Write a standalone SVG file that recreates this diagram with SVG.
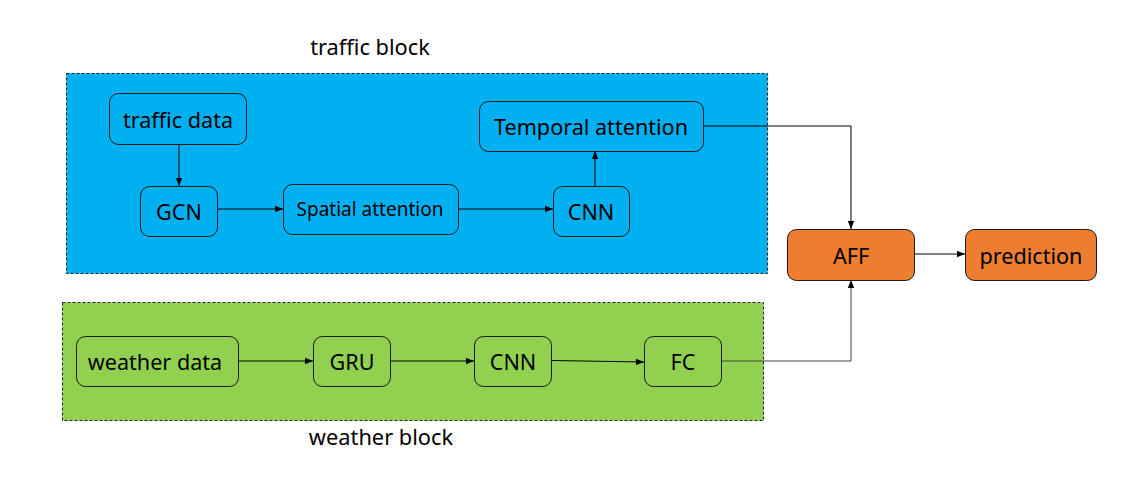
<svg xmlns="http://www.w3.org/2000/svg" width="1144" height="504" viewBox="0 0 1144 504">
<style>
.blk{stroke:#222;stroke-width:1;stroke-dasharray:3 2}
.n rect{stroke:#1a1a1a;stroke-width:1}
.t{fill:#000;font-family:"Noto Sans","Open Sans","DejaVu Sans",sans-serif;font-size:21.6px;text-anchor:middle;dominant-baseline:central}
.c{fill:none;stroke:#000;stroke-width:1;marker-end:url(#ah)}
.lbl{fill:#000;font-family:"Noto Sans","Open Sans","DejaVu Sans",sans-serif;font-size:21.8px;text-anchor:middle}
</style>
<defs>
<marker id="ah" viewBox="0 0 10 10" refX="10" refY="5" markerWidth="8" markerHeight="8" markerUnits="userSpaceOnUse" orient="auto">
<path d="M0,1 L10,5 L0,9 z" fill="#000"/>
</marker>
</defs>
<rect width="1144" height="504" fill="#fff"/>
<g id="traffic-block">
<rect class="blk" x="66.5" y="73.5" width="701" height="200" fill="#00B0F0"/>
<text class="lbl" x="370" y="55">traffic block</text>
</g>
<g id="weather-block">
<rect class="blk" x="62.5" y="302.5" width="701" height="118" fill="#92D050"/>
<text class="lbl" x="381" y="445">weather block</text>
</g>
<g id="connectors">
<path class="c" d="M179,144 V186"/>
<path class="c" d="M217,209 H283"/>
<path class="c" d="M458,209 H553"/>
<path class="c" d="M595,186 V151"/>
<path class="c" d="M703,126 H851 V229"/>
<path class="c" d="M238,361 H313"/>
<path class="c" d="M390,361 H474"/>
<path class="c" d="M552,360.5 L644,362"/>
<path class="c" d="M721,361 H851 V280" style="stroke:#444"/>
<path class="c" d="M914,254 H965"/>
</g>
<g id="traffic-data" class="n"><rect x="109.5" y="93.5" width="137" height="51" rx="9" fill="#00B0F0"/><text class="t" x="178" y="119">traffic data</text></g>
<g id="gcn" class="n"><rect x="140.5" y="186.5" width="77" height="50" rx="9" fill="#00B0F0"/><text class="t" x="179" y="211">GCN</text></g>
<g id="spatial-attention" class="n"><rect x="283.5" y="184.5" width="175" height="50" rx="9" fill="#00B0F0"/><text class="t" x="370" y="209" style="font-size:19px">Spatial attention</text></g>
<g id="cnn-traffic" class="n"><rect x="553.5" y="186.5" width="76" height="50" rx="9" fill="#00B0F0"/><text class="t" x="591" y="211">CNN</text></g>
<g id="temporal-attention" class="n"><rect x="479.5" y="101.5" width="224" height="50" rx="9" fill="#00B0F0"/><text class="t" x="591" y="126">Temporal attention</text></g>
<g id="weather-data" class="n"><rect x="76.5" y="336.5" width="162" height="50" rx="9" fill="#92D050"/><text class="t" x="155" y="361">weather data</text></g>
<g id="gru" class="n"><rect x="313.5" y="336.5" width="77" height="50" rx="9" fill="#92D050"/><text class="t" x="352" y="361">GRU</text></g>
<g id="cnn-weather" class="n"><rect x="474.5" y="336.5" width="77" height="50" rx="9" fill="#92D050"/><text class="t" x="513" y="361">CNN</text></g>
<g id="fc" class="n"><rect x="644.5" y="336.5" width="77" height="50" rx="9" fill="#92D050"/><text class="t" x="683" y="361">FC</text></g>
<g id="aff" class="n"><rect x="787.5" y="229.5" width="127" height="51" rx="9" fill="#ED7D31"/><text class="t" x="851" y="255">AFF</text></g>
<g id="prediction" class="n"><rect x="965.5" y="229.5" width="131" height="51" rx="9" fill="#ED7D31"/><text class="t" x="1031" y="255">prediction</text></g>
</svg>
